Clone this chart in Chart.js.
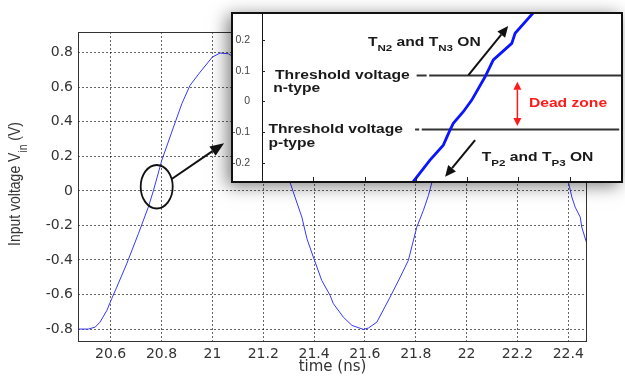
<!DOCTYPE html>
<html>
<head>
<meta charset="utf-8">
<script src="https://cdn.jsdelivr.net/npm/chart.js@4.4.1/dist/chart.umd.min.js"></script>
<style>
  html, body { margin: 0; padding: 0; background: #fff; }
  #wrap { position: relative; width: 625px; height: 376px; overflow: hidden; }
  #main { position: absolute; left: 0; top: 0; }
  #inset {
    position: absolute; left: 231px; top: 12px; width: 388px; height: 167px;
    border: 2px solid #111; background: #fff;
    box-shadow: -4px 3px 16px rgba(0, 0, 0, 0.5);
  }
  #zoom { display: block; }
</style>
</head>
<body>
<div id="wrap">
  <canvas id="main" width="625" height="376"></canvas>
  <div id="inset"><canvas id="zoom" width="388" height="167"></canvas></div>
</div>
<script>
'use strict';

// input voltage trace (time in ns, volts)
var timeNs = [20.473, 20.512, 20.539, 20.558, 20.585, 20.604, 20.624, 20.663, 20.709, 20.748,
  20.768, 20.801, 20.847, 20.880, 20.912, 20.952, 21.000, 21.030, 21.063, 21.10,
  21.15, 21.20, 21.25, 21.306, 21.325, 21.352, 21.372, 21.397, 21.430, 21.463,
  21.476, 21.515, 21.549, 21.594, 21.614, 21.647, 21.699, 21.739, 21.771, 21.804,
  21.830, 21.850, 21.863, 21.90, 21.95, 22.00, 22.05, 22.10, 22.13, 22.17,
  22.22, 22.27, 22.32, 22.36, 22.401, 22.414, 22.427, 22.447, 22.453, 22.473];
var vinVolts = [-0.80, -0.80, -0.789, -0.76, -0.692, -0.624, -0.557, -0.422, -0.248, -0.094,
  0.001, 0.177, 0.369, 0.505, 0.611, 0.688, 0.775, 0.798, 0.794, 0.76,
  0.66, 0.48, 0.27, 0.047, -0.036, -0.152, -0.277, -0.383, -0.518, -0.605,
  -0.653, -0.731, -0.779, -0.802, -0.794, -0.76, -0.615, -0.499, -0.402, -0.21,
  -0.113, -0.026, 0.047, 0.24, 0.46, 0.62, 0.73, 0.79, 0.80, 0.77,
  0.66, 0.48, 0.29, 0.14, 0.047, -0.036, -0.094, -0.152, -0.21, -0.306];

// main axis ticks
var xTicks = [20.6, 20.8, 21, 21.2, 21.4, 21.6, 21.8, 22, 22.2, 22.4];
var yTicks = [-0.8, -0.6, -0.4, -0.2, 0, 0.2, 0.4, 0.6, 0.8];

// zoomed trace around the zero crossing (inset)
var zoomTime = [20.7577, 20.7590, 20.7655, 20.7707, 20.7733, 20.7746, 20.7785, 20.7818,
  20.7870, 20.7902, 20.7974, 20.7987, 20.8058, 20.8072];
var zoomVolts = [-0.280, -0.262, -0.192, -0.143, -0.094, -0.072, -0.034, 0.004,
  0.080, 0.135, 0.189, 0.222, 0.289, 0.305];
var zoomXTicks = [20.70, 20.72, 20.74, 20.76, 20.78, 20.80, 20.82];
var zoomYTicks = [-0.2, -0.1, 0, 0.1, 0.2];

// threshold voltages and where their lines run (ns)
var vthN = 0.084;
var vthP = -0.092;
var vthNSpan = [20.7603, 20.7642, 20.7652, 20.84];
var vthPSpan = [20.7597, 20.7613, 20.7623, 20.8393];

var FONT = '"Liberation Sans", Arial, sans-serif';

function tickLabel(v) {
  return String(Math.round(v * 10) / 10);
}

function pairs(xs, ys) {
  return xs.map(function (x, i) { return { x: x, y: ys[i] }; });
}

// dash, small gap, then the long line
function thresholdLine(span, v) {
  return [{ x: span[0], y: v }, { x: span[1], y: v }, { x: (span[1] + span[2]) / 2, y: null },
    { x: span[2], y: v }, { x: span[3], y: v }];
}

// text with subscripts, squeezed wide like the original picture
function richText(ctx, segs, x, y, size, weight, color, sx, align) {
  ctx.save();
  ctx.fillStyle = color;
  ctx.textBaseline = 'alphabetic';
  ctx.textAlign = 'left';
  var w = 0;
  segs.forEach(function (s) {
    ctx.font = weight + ' ' + (s[1] ? size * 0.74 : size) + 'px ' + FONT;
    w += ctx.measureText(s[0]).width;
  });
  ctx.translate(x, y);
  ctx.scale(sx, 1);
  var cx = align === 'center' ? -w / 2 : 0;
  segs.forEach(function (s) {
    ctx.font = weight + ' ' + (s[1] ? size * 0.74 : size) + 'px ' + FONT;
    ctx.fillText(s[0], cx, s[1] ? size * 0.4 : 0);
    cx += ctx.measureText(s[0]).width;
  });
  ctx.restore();
}

function arrowHead(ctx, x1, y1, x2, y2, len, wid) {
  var a = Math.atan2(y2 - y1, x2 - x1);
  var bx = x2 - len * Math.cos(a), by = y2 - len * Math.sin(a);
  ctx.beginPath();
  ctx.moveTo(x2, y2);
  ctx.lineTo(bx + wid / 2 * Math.sin(a), by - wid / 2 * Math.cos(a));
  ctx.lineTo(bx - wid / 2 * Math.sin(a), by + wid / 2 * Math.cos(a));
  ctx.closePath();
  ctx.fill();
  return { x: bx, y: by };
}

function arrow(ctx, x1, y1, x2, y2, color, width, len, wid, both) {
  ctx.save();
  ctx.strokeStyle = color;
  ctx.fillStyle = color;
  ctx.lineWidth = width;
  var end = arrowHead(ctx, x1, y1, x2, y2, len, wid);
  var start = both ? arrowHead(ctx, x2, y2, x1, y1, len, wid) : { x: x1, y: y1 };
  ctx.beginPath();
  ctx.moveTo(start.x, start.y);
  ctx.lineTo(end.x, end.y);
  ctx.stroke();
  ctx.restore();
}

// annotations on the main plot (data coordinates)
var mainNotes = {
  ellipse: { t: 20.781, v: 0.024, rt: 0.063, rv: 0.126 },
  arrow: { t1: 20.840, v1: 0.069, t2: 21.046, v2: 0.276 }
};

var mainDecor = {
  id: 'mainDecor',
  afterDraw: function (chart) {
    var ctx = chart.ctx, a = chart.chartArea;
    var xs = chart.scales.x, ys = chart.scales.y;
    ctx.save();
    // box around the plot
    ctx.strokeStyle = '#333';
    ctx.lineWidth = 1;
    ctx.strokeRect(a.left + 0.5, a.top + 0.5, a.right - a.left - 1, a.bottom - a.top - 1);

    // y axis title, rotated, with subscript
    ctx.translate(20, 184);
    ctx.rotate(-Math.PI / 2);
    ctx.scale(1, 1.2);
    richText(ctx, [['Input voltage V', 0], ['in', 1], [' (V)', 0]], 0, 0, 14, 'normal', '#333', 1, 'center');
    ctx.restore();

    // ellipse round the zero crossing
    var e = mainNotes.ellipse;
    var cx = xs.getPixelForValue(e.t), cy = ys.getPixelForValue(e.v);
    var rx = xs.getPixelForValue(e.t + e.rt) - cx;
    var ry = cy - ys.getPixelForValue(e.v + e.rv);
    ctx.save();
    ctx.strokeStyle = '#111';
    ctx.lineWidth = 1.8;
    ctx.beginPath();
    ctx.ellipse(cx, cy, rx, ry, 0, 0, Math.PI * 2);
    ctx.stroke();
    ctx.restore();

    var ar = mainNotes.arrow;
    arrow(ctx, xs.getPixelForValue(ar.t1), ys.getPixelForValue(ar.v1),
      xs.getPixelForValue(ar.t2), ys.getPixelForValue(ar.v2), '#111', 2, 14, 11, false);
  }
};

new Chart(document.getElementById('main'), {
  type: 'line',
  data: {
    datasets: [{
      data: pairs(timeNs, vinVolts),
      borderColor: 'rgb(55,55,255)',
      borderWidth: 1,
      pointRadius: 0,
      tension: 0
    }]
  },
  options: {
    responsive: false,
    animation: false,
    layout: { padding: { top: 32, right: 38, left: 0, bottom: 0 } },
    plugins: { legend: { display: false }, tooltip: { enabled: false } },
    scales: {
      x: {
        type: 'linear',
        min: 20.4714,
        max: 22.4736,
        afterBuildTicks: function (s) { s.ticks = xTicks.map(function (v) { return { value: v }; }); },
        afterFit: function (s) { s.height = 34; },
        ticks: {
          font: { family: 'DejaVu Sans', size: 14 }, color: '#333', padding: 4,
          maxRotation: 0, autoSkip: false, callback: tickLabel
        },
        grid: { color: 'rgba(0,0,0,0.6)', lineWidth: 1, drawTicks: false },
        border: { display: false, dash: [2, 2] },
        title: {
          display: true, text: 'time (ns)', color: '#333',
          font: { family: 'DejaVu Sans', size: 15 }, padding: 0
        }
      },
      y: {
        type: 'linear',
        min: -0.875,
        max: 0.92,
        afterBuildTicks: function (s) { s.ticks = yTicks.map(function (v) { return { value: v }; }); },
        afterFit: function (s) { s.width = 78; },
        ticks: {
          font: { family: 'DejaVu Sans', size: 14 }, color: '#333', padding: 5,
          autoSkip: false, callback: tickLabel
        },
        grid: { color: 'rgba(0,0,0,0.6)', lineWidth: 1, drawTicks: false },
        border: { display: false, dash: [2, 2] }
      }
    }
  },
  plugins: [mainDecor]
});

// annotations inside the inset (data coordinates of the inset)
var insetLabels = [
  { segs: [['Threshold voltage', 0]], t: 20.7051, v: 0.0738, color: '#1a1a1a' },
  { segs: [['n-type', 0]], t: 20.7044, v: 0.0304, color: '#1a1a1a' },
  { segs: [['Threshold voltage', 0]], t: 20.7025, v: -0.1025, color: '#1a1a1a' },
  { segs: [['p-type', 0]], t: 20.7025, v: -0.1482, color: '#1a1a1a' },
  { segs: [['T', 0], ['N2', 1], [' and T', 0], ['N3', 1], [' ON', 0]], t: 20.7413, v: 0.1815, color: '#1a1a1a' },
  { segs: [['T', 0], ['P2', 1], [' and T', 0], ['P3', 1], [' ON', 0]], t: 20.7857, v: -0.1948, color: '#1a1a1a' },
  { segs: [['Dead zone', 0]], t: 20.8041, v: -0.0196, color: '#ff1a1a' }
];
var insetArrows = [
  { t1: 20.7805, v1: 0.0858, t2: 20.7960, v2: 0.2458, color: '#111', both: false },
  { t1: 20.7831, v1: -0.1263, t2: 20.7714, v2: -0.2461, color: '#111', both: false },
  { t1: 20.7996, v1: 0.064, t2: 20.7996, v2: -0.0806, color: '#ff1a1a', both: true }
];

var insetDecor = {
  id: 'insetDecor',
  afterDraw: function (chart) {
    var ctx = chart.ctx, a = chart.chartArea;
    var xs = chart.scales.x, ys = chart.scales.y;
    ctx.save();
    ctx.strokeStyle = '#222';
    ctx.lineWidth = 1;
    ctx.beginPath();
    zoomYTicks.forEach(function (v) {
      var py = Math.round(ys.getPixelForValue(v)) + 0.5;
      ctx.moveTo(a.left, py);
      ctx.lineTo(a.left + 3, py);
    });
    zoomXTicks.forEach(function (t) {
      var px = Math.round(xs.getPixelForValue(t)) + 0.5;
      ctx.moveTo(px, a.bottom);
      ctx.lineTo(px, a.bottom - 4);
    });
    ctx.stroke();
    ctx.restore();

    insetLabels.forEach(function (l) {
      richText(ctx, l.segs, xs.getPixelForValue(l.t), ys.getPixelForValue(l.v),
        12.5, 'bold', l.color, 1.25, 'left');
    });
    insetArrows.forEach(function (r) {
      var red = r.both;
      arrow(ctx, xs.getPixelForValue(r.t1), ys.getPixelForValue(r.v1),
        xs.getPixelForValue(r.t2), ys.getPixelForValue(r.v2), r.color,
        red ? 1.5 : 2, red ? 8 : 11, red ? 8 : 10, r.both);
    });
  }
};

new Chart(document.getElementById('zoom'), {
  type: 'line',
  data: {
    datasets: [{
      data: pairs(zoomTime, zoomVolts),
      borderColor: '#0a14ff',
      borderWidth: 2.8,
      pointRadius: 0,
      tension: 0
    }, {
      data: thresholdLine(vthNSpan, vthN),
      borderColor: '#333',
      borderWidth: 2,
      pointRadius: 0,
      spanGaps: false
    }, {
      data: thresholdLine(vthPSpan, vthP),
      borderColor: '#333',
      borderWidth: 2,
      pointRadius: 0,
      spanGaps: false
    }]
  },
  options: {
    responsive: false,
    animation: false,
    layout: { padding: 0 },
    plugins: { legend: { display: false }, tooltip: { enabled: false } },
    scales: {
      x: { type: 'linear', min: 20.70, max: 20.84, display: false },
      y: {
        type: 'linear',
        min: -0.26,
        max: 0.285,
        afterBuildTicks: function (s) { s.ticks = zoomYTicks.map(function (v) { return { value: v }; }); },
        afterFit: function (s) {
          s.width = 29;
          // labels sit well inside the range, so no room is kept for them
          s.paddingTop = 0;
          s.paddingBottom = 0;
        },
        ticks: {
          font: { family: 'Liberation Sans', size: 10.5 }, color: '#444', padding: 4,
          autoSkip: false, callback: tickLabel
        },
        grid: { display: false },
        border: { display: true, color: '#111', width: 1 }
      }
    }
  },
  plugins: [insetDecor]
});
</script>
</body>
</html>
